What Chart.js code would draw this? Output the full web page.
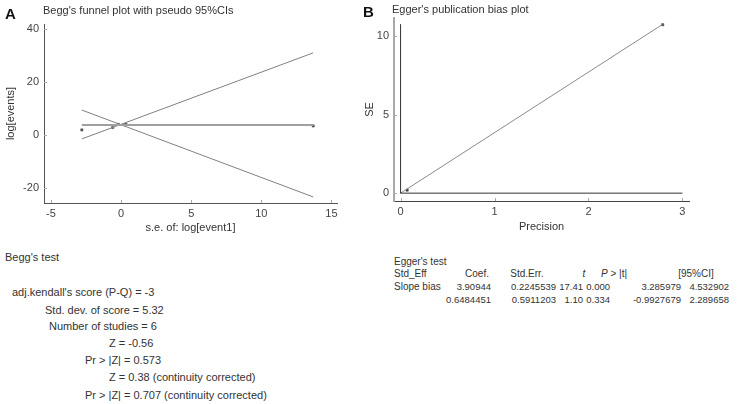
<!DOCTYPE html>
<html>
<head>
<meta charset="utf-8">
<script src="https://cdn.jsdelivr.net/npm/chart.js@4"></script>
<style>
  html, body { margin: 0; padding: 0; background: #fff; }
  #wrap { position: relative; width: 750px; height: 404px; overflow: hidden; font-family: "Liberation Sans", Arial, sans-serif; color: #333; }
  canvas { position: absolute; top: 0; }
  .t { position: absolute; white-space: pre; line-height: 13px; }
  .r { text-align: right; }
  .c { text-align: center; }
</style>
</head>
<body>
<div id="wrap">
  <canvas id="chartA" width="360" height="240" style="left:0;width:360px;height:240px"></canvas>
  <canvas id="chartB" width="390" height="240" style="left:360px;width:390px;height:240px"></canvas>
</div>
<script>
// ---------- Panel A: Begg's funnel plot ----------
const studySE   = [-2.8, -0.6, -0.2, 0.25, 0.35, 13.7];
const studyLog  = [1.9, 2.8, 4.0, 3.9, 4.0, 3.4];
const funnelX     = [-2.8, 13.7];
const funnelMid   = [3.8, 3.8];
const funnelUpper = [-1.5, 31.0];
const funnelLower = [9.4, -23.4];
const xTicksA = [-5, 0, 5, 10, 15];
const yTicksA = [-20, 0, 20, 40];

// ---------- Panel B: Egger's plot ----------
const eggPrecision = [0.07, 2.79];
const eggSE        = [0.19, 10.72];
const fitX = [0, 2.79];
const fitY = [0, 10.75];
const refVX = [0, 0],  refVY = [0, 10.76];
const refHX = [0, 3],  refHY = [0, 0];
const xTicksB = [0, 1, 2, 3];
const yTicksB = [0, 5, 10];

// ---------- Text blocks ----------
const beggLines = [
  ["Begg's test", 5, 257],
  ["adj.kendall's score (P-Q) = -3", 12, 292],
  ["Std. dev. of score = 5.32", 45, 310],
  ["Number of studies = 6", 49, 326],
  ["Z = -0.56", 109, 343],
  ["Pr > |Z| = 0.573", 85, 360],
  ["Z = 0.38 (continuity corrected)", 109, 377],
  ["Pr > |Z| = 0.707 (continuity corrected)", 85, 395]
];
const eggRowLabels = ["Egger's test", "Std_Eff", "Slope bias", ""];
const eggHeaders = ["Coef.", "Std.Err.", "t", "P > |t|", "[95%CI]"];
const eggRow1 = ["3.90944", "0.2245539", "17.41", "0.000", "3.285979", "4.532902"];
const eggRow2 = ["0.6484451", "0.5911203", "1.10", "0.334", "-0.9927679", "2.289658"];

const FONT = '"Liberation Sans", Arial, sans-serif';
const pts = (xs, ys) => xs.map((x, i) => ({x: x, y: ys[i]}));

const inwardTicks = {
  id: 'inwardTicks',
  afterDatasetsDraw(chart) {
    const {ctx, chartArea: a, scales: {x, y}} = chart;
    ctx.save();
    ctx.strokeStyle = '#aaa';
    ctx.lineWidth = 1;
    ctx.beginPath();
    x.ticks.forEach(t => { const px = Math.round(x.getPixelForValue(t.value)) + 0.5; ctx.moveTo(px, a.bottom); ctx.lineTo(px, a.bottom - 3); });
    y.ticks.forEach(t => { const py = Math.round(y.getPixelForValue(t.value)) + 0.5; ctx.moveTo(a.left, py); ctx.lineTo(a.left + 3, py); });
    ctx.stroke();
    ctx.restore();
  }
};

function lineDs(data, color, width) {
  return { data: data, showLine: true, borderColor: color, borderWidth: width, pointRadius: 0, fill: false };
}
function pointDs(data, color) {
  return { data: data, showLine: false, pointStyle: 'rect', pointRadius: 1.6, backgroundColor: color, borderColor: color, borderWidth: 0.5 };
}

function axis(min, max, ticksArr, fitSize, horizontal, title, titlePad, borderColor, borderWidth) {
  return {
    type: 'linear', min: min, max: max,
    afterBuildTicks: s => { s.ticks = ticksArr.map(v => ({value: v})); },
    afterFit: s => { if (horizontal) s.height = fitSize; else s.width = fitSize; },
    grid: { display: false, drawTicks: false },
    border: { display: true, color: borderColor, width: borderWidth },
    ticks: { color: '#444', font: { family: FONT, size: 11 }, padding: horizontal ? 4 : 5, maxRotation: 0, autoSkip: false },
    title: { display: true, text: title, color: '#333', font: { family: FONT, size: 11 }, padding: titlePad }
  };
}

const common = {
  responsive: false, animation: false, devicePixelRatio: 1,
  plugins: { legend: { display: false }, tooltip: { enabled: false } }
};

new Chart(document.getElementById('chartA'), {
  type: 'scatter',
  data: { datasets: [
    lineDs(pts(funnelX, funnelMid), '#a0a0a0', 2),
    lineDs(pts(funnelX, funnelUpper), '#808080', 1),
    lineDs(pts(funnelX, funnelLower), '#808080', 1),
    pointDs(pts(studySE, studyLog), '#555')
  ]},
  options: Object.assign({}, common, {
    layout: { padding: { left: 0, top: 24, right: 23, bottom: 0 } },
    scales: {
      x: axis(-5.5, 15.4, xTicksA, 37, true, 's.e. of: log[event1]', { top: 0, bottom: 5 }, '#555', 1),
      y: axis(-25.7, 41.9, yTicksA, 44, false, 'log[events]', { top: 4, bottom: 0 }, '#555', 1)
    }
  }),
  plugins: [inwardTicks]
});

new Chart(document.getElementById('chartB'), {
  type: 'scatter',
  data: { datasets: [
    lineDs(pts(refVX, refVY), '#333', 1),
    lineDs(pts(refHX, refHY), '#333', 1),
    lineDs(pts(fitX, fitY), '#8a8a8a', 1),
    pointDs(pts(eggPrecision, eggSE), '#444')
  ]},
  options: Object.assign({}, common, {
    layout: { padding: { left: 0, top: 18, right: 61, bottom: 0 } },
    scales: {
      x: axis(-0.07, 3.07, xTicksB, 39, true, 'Precision', { top: 0, bottom: 6 }, '#444', 1),
      y: axis(-0.5, 11.15, yTicksB, 34, false, 'SE', { top: 3, bottom: 0 }, '#a8a8a8', 2)
    }
  }),
  plugins: [inwardTicks]
});

// ---------- Text rendering ----------
const wrap = document.getElementById('wrap');
function addText(txt, x, cy, size, opts) {
  opts = opts || {};
  const d = document.createElement('div');
  d.className = 't' + (opts.align === 'right' ? ' r' : opts.align === 'center' ? ' c' : '');
  d.style.fontSize = size + 'px';
  d.style.top = (cy - 6.5) + 'px';
  if (opts.bold) d.style.fontWeight = 'bold';
  if (opts.color) d.style.color = opts.color;
  if (opts.align === 'right') { d.style.right = (750 - x) + 'px'; }
  else if (opts.align === 'center') { d.style.left = (x - 60) + 'px'; d.style.width = '120px'; }
  else { d.style.left = x + 'px'; }
  if (opts.html) d.innerHTML = txt; else d.textContent = txt;
  wrap.appendChild(d);
}

addText('A', 5, 13, 15, { bold: true, color: '#111' });
addText("Begg's funnel plot with pseudo 95%CIs", 43, 10, 11);
addText('B', 363, 11, 15, { bold: true, color: '#111' });
addText("Egger's publication bias plot", 392, 9, 11);

beggLines.forEach(l => addText(l[0], l[1], l[2], 11));

const rowY = [261, 273.5, 286, 299];
eggRowLabels.forEach((s, i) => { if (s) addText(s, 394, rowY[i], 10); });
const headCenters = [477, 527, 584, 614, 696];
eggHeaders.forEach((h, i) => {
  let html = h;
  if (h === 't') html = '<i>t</i>';
  if (h.indexOf('P >') === 0) html = '<i>P</i> &gt; |t|';
  addText(html, headCenters[i], rowY[1], 10, { align: 'center', html: true });
});
const valRights = [491, 556, 583, 610, 681, 729];
eggRow1.forEach((v, i) => addText(v, valRights[i], rowY[2], 9.5, { align: 'right' }));
eggRow2.forEach((v, i) => addText(v, valRights[i], rowY[3], 9.5, { align: 'right' }));
</script>
</body>
</html>
